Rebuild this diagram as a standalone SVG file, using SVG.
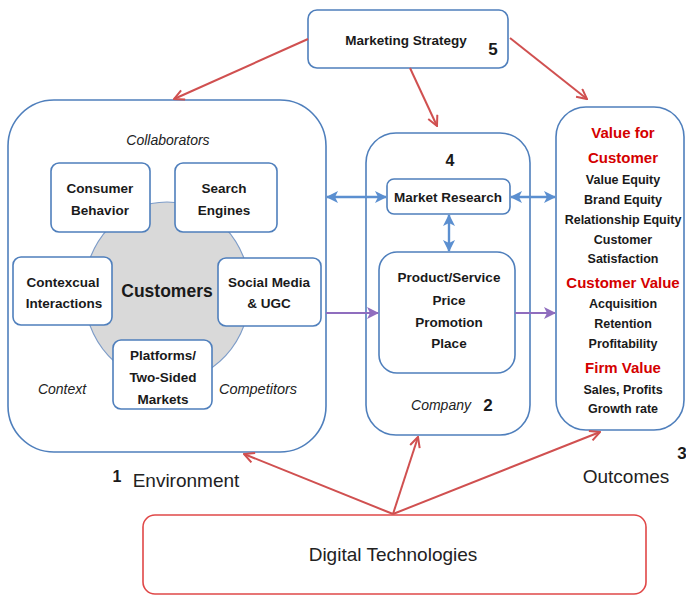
<svg xmlns="http://www.w3.org/2000/svg" width="686" height="596" viewBox="0 0 686 596">
<defs>
<style>
.box{fill:#fff;stroke:#4f7fbc;stroke-width:1.6}
.t{font-family:"Liberation Sans",Arial,sans-serif;font-weight:bold;fill:#1a1a1a;text-anchor:middle}
.i{font-family:"Liberation Sans",Arial,sans-serif;font-style:italic;fill:#222;text-anchor:middle}
.r{font-family:"Liberation Sans",Arial,sans-serif;fill:#222;text-anchor:middle}
.red{fill:#d40000}
.ra{stroke:#d05050;stroke-width:2;fill:none}
.ba{stroke:#5b8fd0;stroke-width:2.4;fill:none}
.pa{stroke:#8f6dbe;stroke-width:2.2;fill:none}
</style>
<marker id="mr" viewBox="0 0 12 12" refX="11" refY="6" markerWidth="12" markerHeight="12" markerUnits="userSpaceOnUse" orient="auto">
<path d="M1,1 L11,6 L1,11" fill="none" stroke="#d05050" stroke-width="2"/>
</marker>
<marker id="mb" viewBox="0 0 12 12" refX="11" refY="6" markerWidth="12" markerHeight="12" markerUnits="userSpaceOnUse" orient="auto-start-reverse">
<path d="M0,0 L12,6 L0,12 L3,6 Z" fill="#5b8fd0"/>
</marker>
<marker id="mp" viewBox="0 0 12 12" refX="11" refY="6" markerWidth="12" markerHeight="12" markerUnits="userSpaceOnUse" orient="auto">
<path d="M0,0 L12,6 L0,12 L3,6 Z" fill="#8f6dbe"/>
</marker>
</defs>
<rect width="686" height="596" fill="#fff"/>

<g id="environment">
<rect class="box" x="8" y="100" width="318" height="352" rx="46"/>
<text class="i" x="168" y="145" font-size="14">Collaborators</text>
<text class="i" x="62" y="394" font-size="14">Context</text>
<text class="i" x="258" y="394" font-size="14.5">Competitors</text>
<text class="t" x="117" y="482" font-size="16" style="font-weight:bold">1</text>
<text class="r" x="186" y="487" font-size="19">Environment</text>
</g>

<g id="customers">
<ellipse cx="167" cy="292" rx="83" ry="90" fill="#d9d9d9" stroke="#7d9cc8" stroke-width="1.2"/>
<text class="t" x="167" y="297" font-size="17.5">Customers</text>
</g>

<g id="consumer-behavior">
<rect class="box" x="51" y="163" width="99" height="69" rx="8"/>
<text class="t" x="100" y="193" font-size="13.5">Consumer</text>
<text class="t" x="100" y="215" font-size="13.5">Behavior</text>
</g>

<g id="search-engines">
<rect class="box" x="175" y="163" width="102" height="69" rx="8"/>
<text class="t" x="224" y="193" font-size="13.5">Search</text>
<text class="t" x="224" y="215" font-size="13.5">Engines</text>
</g>

<g id="contextual-interactions">
<rect class="box" x="13" y="257" width="99" height="68" rx="8"/>
<text class="t" x="63" y="287" font-size="13.5">Contexcual</text>
<text class="t" x="64" y="308" font-size="13.5">Interactions</text>
</g>

<g id="social-media">
<rect class="box" x="218" y="258" width="103" height="68" rx="8"/>
<text class="t" x="269" y="287" font-size="13.5">Social Media</text>
<text class="t" x="269" y="308" font-size="13.5">&amp; UGC</text>
</g>

<g id="platforms">
<rect class="box" x="113" y="340" width="99" height="69" rx="8"/>
<text class="t" x="163" y="360" font-size="13.5">Platforms/</text>
<text class="t" x="163" y="382" font-size="13.5">Two-Sided</text>
<text class="t" x="163" y="404" font-size="13.5">Markets</text>
</g>

<g id="marketing-strategy">
<rect class="box" x="308" y="10" width="200" height="58" rx="9"/>
<text class="t" x="406" y="45" font-size="13.5">Marketing Strategy</text>
<text class="t" x="493" y="55" font-size="17">5</text>
</g>

<g id="company">
<rect class="box" x="366" y="133" width="164" height="302" rx="30"/>
<text class="t" x="450" y="166" font-size="16">4</text>
<text class="i" x="441" y="410" font-size="14">Company</text>
<text class="t" x="488" y="411" font-size="17">2</text>
</g>

<g id="market-research">
<rect class="box" x="387" y="179" width="123" height="35" rx="7"/>
<text class="t" x="448" y="202" font-size="13.5">Market Research</text>
</g>

<g id="marketing-mix">
<rect class="box" x="379" y="252" width="136" height="121" rx="18"/>
<text class="t" x="449" y="282" font-size="13.5">Product/Service</text>
<text class="t" x="449" y="305" font-size="13.5">Price</text>
<text class="t" x="449" y="327" font-size="13.5">Promotion</text>
<text class="t" x="449" y="348" font-size="13.5">Place</text>
</g>

<g id="outcomes">
<rect class="box" x="556" y="107" width="128" height="323" rx="30"/>
<text class="t red" x="623" y="138" font-size="15">Value for</text>
<text class="t red" x="623" y="163" font-size="15">Customer</text>
<text class="t" x="623" y="184" font-size="12.5">Value Equity</text>
<text class="t" x="623" y="204" font-size="12.5">Brand Equity</text>
<text class="t" x="623" y="224" font-size="12.5">Relationship Equity</text>
<text class="t" x="623" y="244" font-size="12.5">Customer</text>
<text class="t" x="623" y="263" font-size="12.5">Satisfaction</text>
<text class="t red" x="623" y="288" font-size="15">Customer Value</text>
<text class="t" x="623" y="308" font-size="12.5">Acquisition</text>
<text class="t" x="623" y="328" font-size="12.5">Retention</text>
<text class="t" x="623" y="348" font-size="12.5">Profitability</text>
<text class="t red" x="623" y="373" font-size="15">Firm Value</text>
<text class="t" x="623" y="394" font-size="12.5">Sales, Profits</text>
<text class="t" x="623" y="413" font-size="12.5">Growth rate</text>
<text class="t" x="682" y="459" font-size="17">3</text>
<text class="r" x="626" y="483" font-size="19">Outcomes</text>
</g>

<g id="digital-technologies">
<rect x="143" y="515" width="503" height="79" rx="12" fill="#fff" stroke="#e04848" stroke-width="1.6"/>
<text class="r" x="393" y="561" font-size="19">Digital Technologies</text>
</g>

<g id="connectors">
<line class="ra" x1="308" y1="39" x2="174" y2="99" marker-end="url(#mr)"/>
<line class="ra" x1="410" y1="68" x2="437" y2="126" marker-end="url(#mr)"/>
<line class="ra" x1="510" y1="38" x2="587" y2="99" marker-end="url(#mr)"/>
<line class="ra" x1="393" y1="514" x2="244" y2="454" marker-end="url(#mr)"/>
<line class="ra" x1="393" y1="514" x2="418" y2="437" marker-end="url(#mr)"/>
<line class="ra" x1="393" y1="514" x2="600" y2="432" marker-end="url(#mr)"/>
<line class="ba" x1="327" y1="197" x2="386" y2="197" marker-start="url(#mb)" marker-end="url(#mb)"/>
<line class="ba" x1="511" y1="197" x2="555" y2="197" marker-start="url(#mb)" marker-end="url(#mb)"/>
<line class="ba" x1="449" y1="215" x2="449" y2="251" marker-start="url(#mb)" marker-end="url(#mb)"/>
<line class="pa" x1="326" y1="313" x2="378" y2="313" marker-end="url(#mp)"/>
<line class="pa" x1="515" y1="313" x2="555" y2="313" marker-end="url(#mp)"/>
</g>
</svg>
